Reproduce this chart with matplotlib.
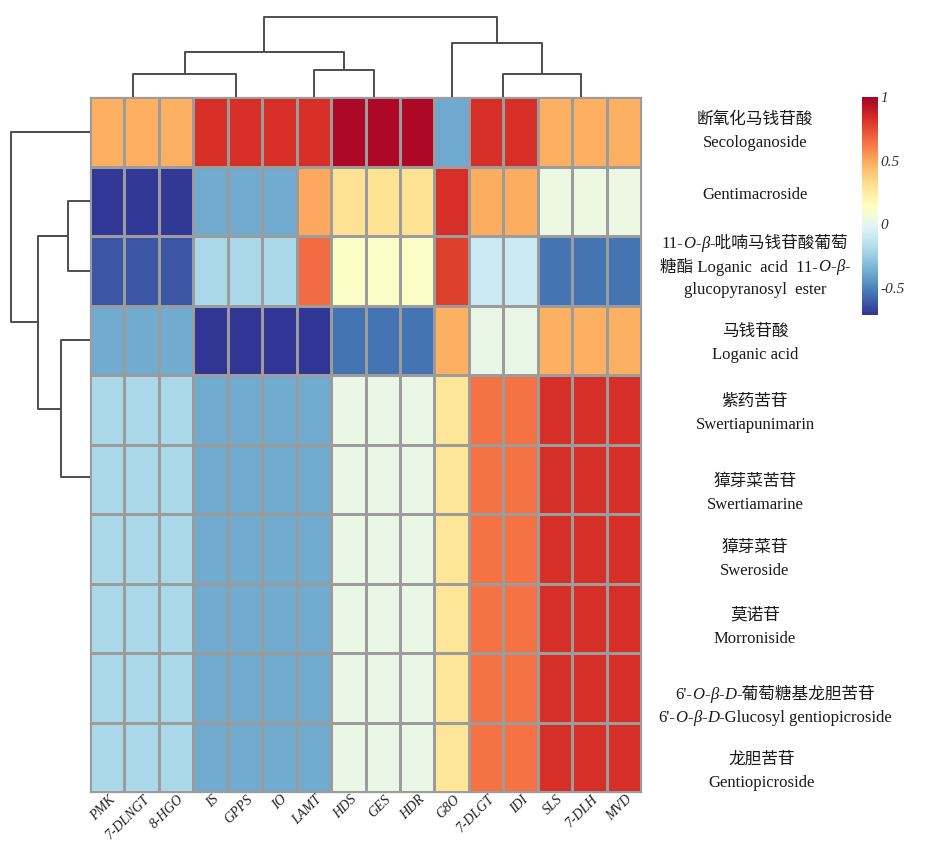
import numpy as np
import matplotlib
matplotlib.use("Agg")
import matplotlib.pyplot as plt
from matplotlib.colors import Normalize
from matplotlib.cm import ScalarMappable
from matplotlib.transforms import IdentityTransform, ScaledTranslation

# ---------------------------------------------------------------- data
genes = ["PMK", "7-DLNGT", "8-HGO", "IS", "GPPS", "IO", "LAMT", "HDS", "GES",
         "HDR", "G8O", "7-DLGT", "IDI", "SLS", "7-DLH", "MVD"]

# compound labels; *...* marks italic segments, \n separates lines
compounds = [
    "断氧化马钱苷酸\nSecologanoside",
    "Gentimacroside",
    "11-*O*-*β*-吡喃马钱苷酸葡萄\n糖酯 Loganic  acid  11-*O*-*β*-\nglucopyranosyl  ester",
    "马钱苷酸\nLoganic acid",
    "紫药苦苷\nSwertiapunimarin",
    "獐芽菜苦苷\nSwertiamarine",
    "獐芽菜苷\nSweroside",
    "莫诺苷\nMorroniside",
    "6'-*O*-*β*-*D*-葡萄糖基龙胆苦苷\n6'-*O*-*β*-*D*-Glucosyl gentiopicroside",
    "龙胆苦苷\nGentiopicroside",
]

# correlation coefficients, one list per compound (columns follow `genes`)
r_secologanoside = [0.48, 0.48, 0.48, 0.83, 0.83, 0.83, 0.83, 0.97, 0.97, 0.97, -0.38, 0.83, 0.83, 0.48, 0.48, 0.48]
r_gentimacroside = [-0.70, -0.70, -0.70, -0.37, -0.37, -0.37, 0.50, 0.30, 0.30, 0.30, 0.83, 0.49, 0.49, 0.04, 0.04, 0.04]
r_loganic_ester = [-0.62, -0.62, -0.62, -0.20, -0.20, -0.20, 0.66, 0.12, 0.12, 0.12, 0.78, -0.09, -0.09, -0.54, -0.54, -0.54]
r_loganic_acid = [-0.37, -0.37, -0.37, -0.71, -0.71, -0.71, -0.71, -0.54, -0.54, -0.54, 0.48, 0.03, 0.03, 0.48, 0.48, 0.48]
r_swertiapunimarin = [-0.20, -0.20, -0.20, -0.37, -0.37, -0.37, -0.37, 0.03, 0.03, 0.03, 0.28, 0.64, 0.64, 0.83, 0.83, 0.83]
r_swertiamarine = [-0.20, -0.20, -0.20, -0.37, -0.37, -0.37, -0.37, 0.03, 0.03, 0.03, 0.28, 0.64, 0.64, 0.83, 0.83, 0.83]
r_sweroside = [-0.20, -0.20, -0.20, -0.37, -0.37, -0.37, -0.37, 0.03, 0.03, 0.03, 0.28, 0.64, 0.64, 0.83, 0.83, 0.83]
r_morroniside = [-0.20, -0.20, -0.20, -0.37, -0.37, -0.37, -0.37, 0.03, 0.03, 0.03, 0.28, 0.64, 0.64, 0.83, 0.83, 0.83]
r_glucosyl_gentiopicroside = [-0.20, -0.20, -0.20, -0.37, -0.37, -0.37, -0.37, 0.03, 0.03, 0.03, 0.28, 0.64, 0.64, 0.83, 0.83, 0.83]
r_gentiopicroside = [-0.20, -0.20, -0.20, -0.37, -0.37, -0.37, -0.37, 0.03, 0.03, 0.03, 0.28, 0.64, 0.64, 0.83, 0.83, 0.83]

# hierarchical clustering results (linkage format: child a, child b, height;
# ids >= n refer to earlier merges)
gene_linkage = [
    (1, 2, 0.0), (0, 16, 0.0),          # 16, 17
    (4, 5, 0.0), (3, 18, 0.0),          # 18, 19
    (8, 9, 0.0), (7, 20, 0.0),          # 20, 21
    (11, 12, 0.0),                      # 22
    (14, 15, 0.0), (13, 23, 0.0),       # 23, 24
    (17, 19, 2.3),                      # 25
    (6, 21, 2.7),                       # 26
    (22, 24, 2.3),                      # 27
    (25, 26, 4.5),                      # 28
    (10, 27, 5.4),                      # 29
    (28, 29, 8.0),                      # 30
]
compound_linkage = [
    (8, 9, 0.0), (7, 10, 0.0), (6, 11, 0.0), (5, 12, 0.0), (4, 13, 0.0),  # 10-14
    (1, 2, 2.2),                        # 15
    (3, 14, 2.9),                       # 16
    (15, 16, 5.2),                      # 17
    (0, 17, 7.9),                       # 18
]

values = np.array([r_secologanoside, r_gentimacroside, r_loganic_ester,
                   r_loganic_acid, r_swertiapunimarin, r_swertiamarine,
                   r_sweroside, r_morroniside, r_glucosyl_gentiopicroside,
                   r_gentiopicroside])
vmin, vmax = -0.71, 1.0

# ---------------------------------------------------------------- layout
W, H = 935, 843
fig = plt.figure(figsize=(W / 100, H / 100), dpi=100)
fig.patch.set_facecolor("white")

def px_axes(x0, y0, x1, y1):
    """Axes from pixel box measured from the top-left corner."""
    return fig.add_axes([x0 / W, 1 - y1 / H, (x1 - x0) / W, (y1 - y0) / H])

hm_box = (90, 97, 641, 792)
ax = px_axes(*hm_box)
ax_top = px_axes(hm_box[0], 17, hm_box[2], hm_box[1])
ax_left = px_axes(10, hm_box[1], hm_box[0], hm_box[3])
cax = px_axes(862, 97, 878, 315)

SERIF = ["Liberation Serif", "Noto Sans CJK SC", "DejaVu Sans"]
cmap = plt.get_cmap("RdYlBu_r")
norm = Normalize(vmin=vmin, vmax=vmax)
n_rows, n_cols = values.shape

# ---------------------------------------------------------------- heatmap
ax.pcolormesh(np.arange(n_cols + 1), np.arange(n_rows + 1), values,
              cmap=cmap, norm=norm, edgecolors="#9c9c9c", linewidth=0.9)
ax.set_xlim(0, n_cols)
ax.set_ylim(n_rows, 0)
for s in ax.spines.values():
    s.set_color("#9c9c9c")
    s.set_linewidth(0.9)
ax.set_yticks([])
ax.set_xticks(np.arange(n_cols) + 0.5)
ax.set_xticklabels(genes, rotation=45, ha="right", va="center",
                   rotation_mode="anchor", fontstyle="italic",
                   family=SERIF, fontsize=10, color="#222222")
ax.tick_params(axis="x", length=0, pad=4)
shift = ScaledTranslation(6 / 100, 0, fig.dpi_scale_trans)
for lbl in ax.get_xticklabels():
    lbl.set_transform(lbl.get_transform() + shift)

# ---------------------------------------------------------------- dendrograms
def draw_dendrogram(axis, linkage, n, horizontal):
    pos = {i: i + 0.5 for i in range(n)}
    hgt = {i: 0.0 for i in range(n)}
    for k, (a, b, h) in enumerate(linkage):
        node = n + k
        if h > 0:
            p = [pos[a], pos[a], pos[b], pos[b]]
            q = [hgt[a], h, h, hgt[b]]
            if horizontal:
                axis.plot(q, p, color="#4d4d4d", lw=1.4, solid_capstyle="butt",
                          clip_on=False)
            else:
                axis.plot(p, q, color="#4d4d4d", lw=1.4, solid_capstyle="butt",
                          clip_on=False)
        pos[node] = (pos[a] + pos[b]) / 2
        hgt[node] = h
    axis.set_axis_off()

draw_dendrogram(ax_top, gene_linkage, n_cols, horizontal=False)
ax_top.set_xlim(0, n_cols)
ax_top.set_ylim(0, 8.0)

draw_dendrogram(ax_left, compound_linkage, n_rows, horizontal=True)
ax_left.set_ylim(n_rows, 0)
ax_left.set_xlim(8.0, 0)

# ---------------------------------------------------------------- colour bar
cb = fig.colorbar(ScalarMappable(norm=norm, cmap=cmap), cax=cax,
                  ticks=[-0.5, 0, 0.5, 1])
cb.outline.set_visible(False)
cb.ax.tick_params(length=0, pad=2)
cb.ax.set_yticklabels(["-0.5", "0", "0.5", "1"])
for t in cb.ax.get_yticklabels():
    t.set_fontstyle("italic")
    t.set_family(SERIF)
    t.set_fontsize(11)
    t.set_color("#333333")

# ---------------------------------------------------------------- row labels
renderer = fig.canvas.get_renderer()
label_nudge = [(0, -2), (0, -8), (0, -6), (0, 1), (0, 2),
               (0, 12), (0, 9), (0, 7), (20, 17), (7, 12)]
line_gap = 23.0
label_x = 755.0

def rich_line(xc, yc, text, size=12):
    parts = text.split("*")
    arts = []
    for i, part in enumerate(parts):
        if not part:
            continue
        t = fig.text(0, 0, part, fontsize=size, family=SERIF,
                     fontstyle="italic" if i % 2 else "normal",
                     ha="left", va="center_baseline", color="#1a1a1a",
                     transform=IdentityTransform())
        arts.append(t)
    widths = [t.get_window_extent(renderer).width for t in arts]
    x = xc - sum(widths) / 2
    for t, w in zip(arts, widths):
        t.set_position((x, yc))
        x += w

row_h = (hm_box[3] - hm_box[1]) / n_rows
for i, label in enumerate(compounds):
    lines = label.split("\n")
    dx, dy = label_nudge[i]
    yc = hm_box[1] + row_h * (i + 0.5) + dy
    for j, line in enumerate(lines):
        y = yc + (j - (len(lines) - 1) / 2) * line_gap
        rich_line(label_x + dx, H - y, line)

fig.savefig("out.png", dpi=100, facecolor="white")
